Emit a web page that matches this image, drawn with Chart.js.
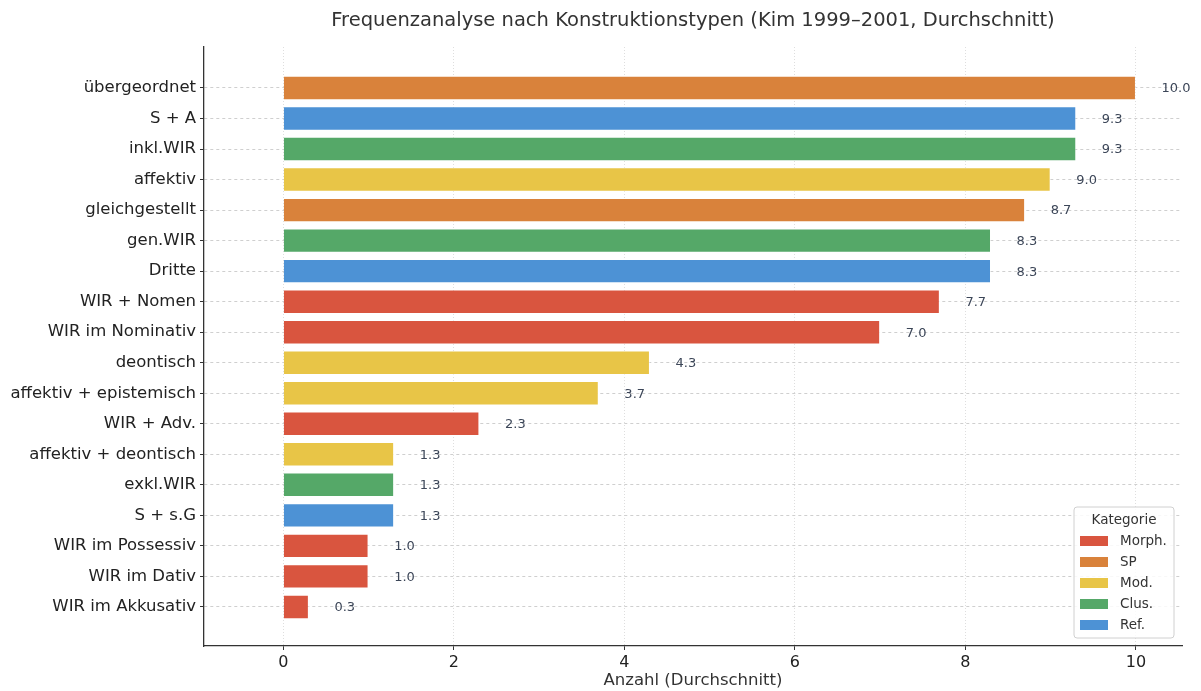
<!DOCTYPE html>
<html>
<head>
<meta charset="utf-8">
<script src="https://cdn.jsdelivr.net/npm/chart.js@4/dist/chart.umd.min.js"></script>
<style>
  html, body { margin: 0; padding: 0; background: #fff; }
  #wrap { width: 1201px; height: 691px; }
</style>
</head>
<body>
<div id="wrap"><canvas id="bar-chart" width="1201" height="691"></canvas></div>
<script>
// chart data (top to bottom)
var chartTitle = "Frequenzanalyse nach Konstruktionstypen (Kim 1999–2001, Durchschnitt)";
var categories = ["übergeordnet", "S + A", "inkl.WIR", "affektiv", "gleichgestellt", "gen.WIR", "Dritte",
	"WIR + Nomen", "WIR im Nominativ", "deontisch", "affektiv + epistemisch", "WIR + Adv.",
	"affektiv + deontisch", "exkl.WIR", "S + s.G", "WIR im Possessiv", "WIR im Dativ", "WIR im Akkusativ"];
var values = [10.0, 9.3, 9.3, 9.0, 8.7, 8.3, 8.3, 7.7, 7.0, 4.3, 3.7, 2.3, 1.3, 1.3, 1.3, 1.0, 1.0, 0.3];
var groups = ["SP", "Ref.", "Clus.", "Mod.", "SP", "Clus.", "Ref.", "Morph.", "Morph.", "Mod.", "Mod.", "Morph.",
	"Mod.", "Clus.", "Ref.", "Morph.", "Morph.", "Morph."];
var groupNames = ["Morph.", "SP", "Mod.", "Clus.", "Ref."];
var groupColors = ["#d9553f", "#d9823b", "#e8c547", "#55a868", "#4d92d5"];
var xTicks = [0, 2, 4, 6, 8, 10];

var font = "'DejaVu Sans', sans-serif";

function colorOf(g){
	return groupColors[groupNames.indexOf(g)];
}

var barData = values.map(function(v, i){ return {x: v, y: i}; });

// title centred over the plot area, like the original
var areaTitle = {
	id: 'areaTitle',
	afterDraw: function(chart){
		var ctx = chart.ctx;
		var a = chart.chartArea;
		ctx.save();
		ctx.font = "19.5px " + font;
		ctx.fillStyle = "#333";
		ctx.textAlign = "center";
		ctx.textBaseline = "middle";
		ctx.fillText(chartTitle, (a.left + a.right) / 2, 21);
		ctx.restore();
	}
};

var valueLabels = {
	id: 'valueLabels',
	afterDatasetsDraw: function(chart){
		var ctx = chart.ctx;
		var xs = chart.scales.x;
		var meta = chart.getDatasetMeta(0);
		ctx.save();
		ctx.font = "13px " + font;
		ctx.fillStyle = "#3c4658";
		ctx.textAlign = "left";
		ctx.textBaseline = "middle";
		meta.data.forEach(function(bar, i){
			ctx.fillText(values[i].toFixed(1), xs.getPixelForValue(values[i] + 0.3), bar.y + 1);
		});
		ctx.restore();
	}
};

var boxLegend = {
	id: 'boxLegend',
	afterDraw: function(chart){
		var ctx = chart.ctx;
		var a = chart.chartArea;
		var w = 100, h = 131;
		var x0 = a.right - 8 - w, y0 = a.bottom - 8 - h;
		ctx.save();
		ctx.beginPath();
		ctx.roundRect(x0, y0, w, h, 3);
		ctx.fillStyle = "rgba(255,255,255,0.85)";
		ctx.fill();
		ctx.strokeStyle = "#d0d0d0";
		ctx.lineWidth = 1;
		ctx.stroke();
		ctx.fillStyle = "#333";
		ctx.font = "13.5px " + font;
		ctx.textAlign = "center";
		ctx.textBaseline = "middle";
		ctx.fillText("Kategorie", x0 + w / 2, y0 + 13);
		ctx.textAlign = "left";
		groupNames.forEach(function(g, i){
			var cy = y0 + 34 + i * 21;
			ctx.fillStyle = groupColors[i];
			ctx.fillRect(x0 + 6, cy - 5, 28, 10);
			ctx.fillStyle = "#333";
			ctx.fillText(g, x0 + 46, cy);
		});
		ctx.restore();
	}
};

new Chart(document.getElementById("bar-chart"), {
	type: 'bar',
	data: {
		datasets: [{
			label: "Anzahl",
			data: barData,
			backgroundColor: groups.map(colorOf),
			borderColor: "rgba(255,255,255,0.45)",
			borderWidth: 1,
			barPercentage: 0.8,
			categoryPercentage: 1.0
		}]
	},
	options: {
		indexAxis: 'y',
		responsive: false,
		animation: false,
		maintainAspectRatio: false,
		layout: { padding: { left: 0, right: 19, top: 47, bottom: 0 } },
		plugins: {
			legend: { display: false },
			tooltip: { enabled: false },
			title: { display: false }
		},
		scales: {
			x: {
				type: 'linear',
				min: -0.93,
				max: 10.54,
				afterBuildTicks: function(s){ s.ticks = xTicks.map(function(v){ return {value: v}; }); },
				afterFit: function(s){ s.height = 45; },
				ticks: {
					color: "#222",
					font: { family: font, size: 16 },
					padding: 3,
					maxRotation: 0
				},
				grid: {
					color: "#dedede",
					lineWidth: 1,
					tickLength: 4,
					tickColor: "#333"
				},
				border: { display: true, color: "#333", width: 1.3, dash: [1, 2] },
				title: {
					display: true,
					text: "Anzahl (Durchschnitt)",
					color: "#333",
					font: { family: font, size: 16.5 },
					padding: { top: 0, bottom: 0 }
				}
			},
			y: {
				type: 'linear',
				reverse: true,
				offset: false,
				min: -1.343,
				max: 18.28,
				z: 1,
				afterBuildTicks: function(s){ s.ticks = categories.map(function(c, i){ return {value: i}; }); },
				afterFit: function(s){ s.width = 204; },
				ticks: {
					color: "#222",
					font: { family: font, size: 16.5 },
					padding: 4,
					callback: function(v){ return categories[v]; }
				},
				grid: {
					offset: false,
					color: "#cfcfcf",
					lineWidth: 1,
					tickLength: 4,
					tickColor: "#333"
				},
				border: { display: true, color: "#333", width: 1.3, dash: [3, 3] }
			}
		}
	},
	plugins: [valueLabels, boxLegend, areaTitle]
});
</script>
</body>
</html>
